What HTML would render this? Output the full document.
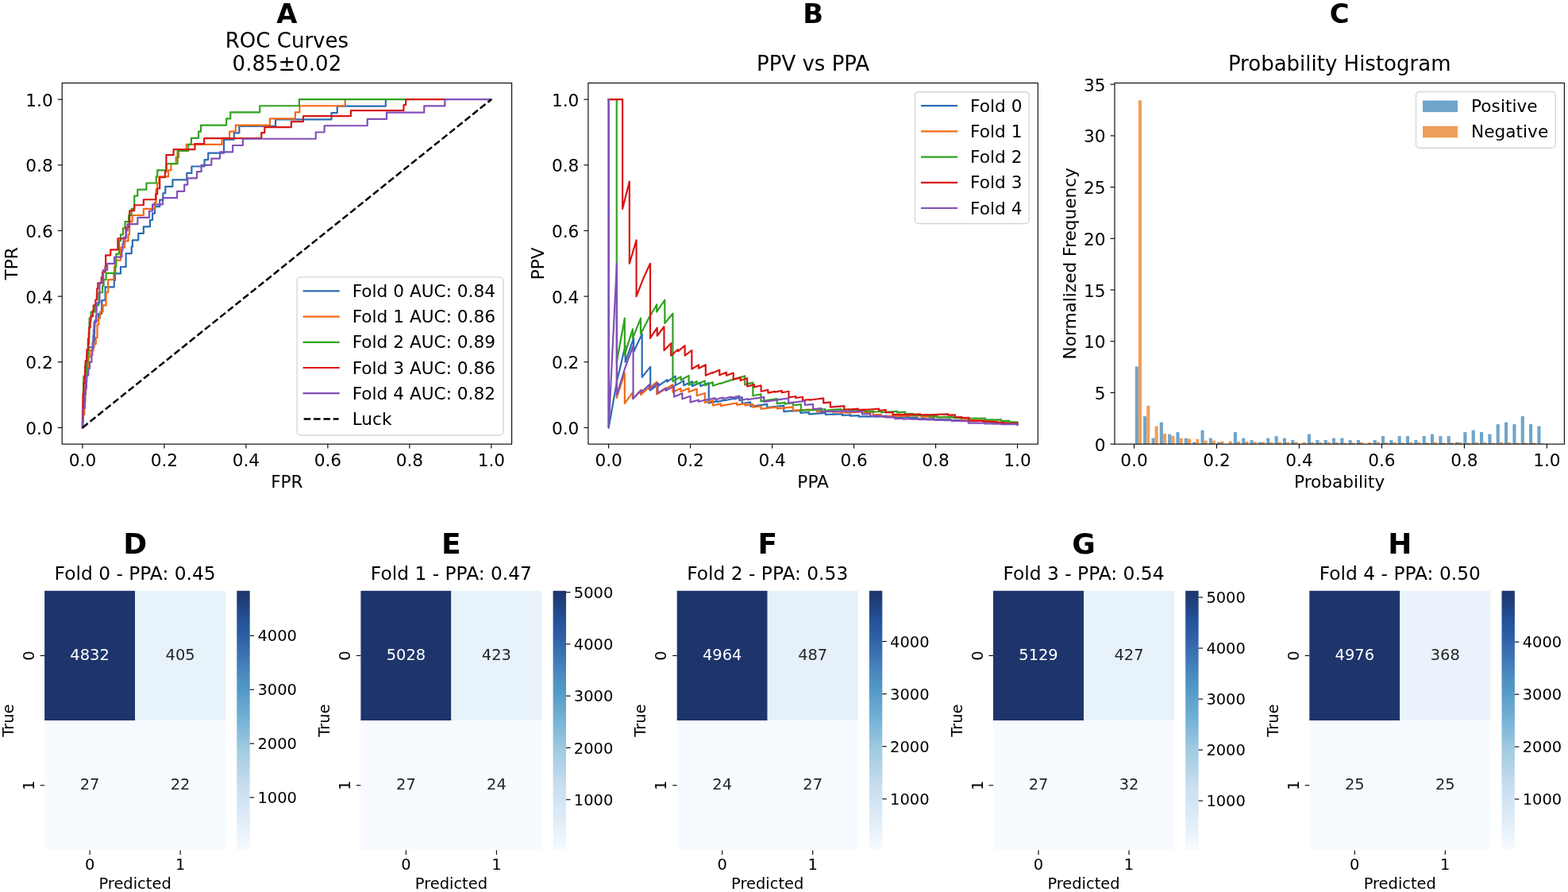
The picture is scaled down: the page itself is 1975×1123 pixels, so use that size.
<!DOCTYPE html>
<html lang="en"><head><meta charset="utf-8"><title>Cross-validation performance figure</title>
<style>html,body{margin:0;padding:0;background:#fff}body{width:1975px;height:1123px;overflow:hidden}svg{display:block}text{font-family:"DejaVu Sans","Liberation Sans",sans-serif}</style></head><body>
<svg xmlns="http://www.w3.org/2000/svg" width="1975" height="1123" viewBox="0 0 1975 1123">
<rect width="1975" height="1123" fill="#fff"/>
<g id="panelA">
<clipPath id="clipA"><rect x="78.2" y="104.5" width="566.4" height="454.6"/></clipPath>
<g clip-path="url(#clipA)">
<path d="M103.95 538.44 L104.54 538.44 L104.54 521.57 L104.73 521.57 L104.73 513.13 L104.93 513.13 L104.93 504.7 L106.11 504.7 L106.11 496.27 L107.78 496.27 L107.78 487.83 L107.98 487.83 L107.98 479.4 L108.17 479.4 L108.17 470.96 L109.25 470.96 L109.25 462.53 L109.94 462.53 L109.94 454.09 L110.73 454.09 L110.73 445.66 L111.42 445.66 L111.42 437.23 L118.5 437.23 L118.5 428.79 L118.89 428.79 L118.89 420.36 L119.09 420.36 L119.09 411.92 L119.38 411.92 L119.38 403.49 L123.81 403.49 L123.81 395.06 L128.13 395.06 L128.13 386.62 L128.23 386.62 L128.23 378.19 L132.56 378.19 L132.56 361.32 L143.77 361.32 L143.77 352.89 L144.95 352.89 L144.95 344.45 L151.93 344.45 L151.93 336.02 L158.61 336.02 L158.61 319.15 L165.69 319.15 L165.69 310.71 L166.87 310.71 L166.87 302.28 L174.25 302.28 L174.25 293.85 L180.83 293.85 L180.83 285.41 L188.99 285.41 L188.99 276.98 L192.04 276.98 L192.04 268.54 L195.09 268.54 L195.09 260.11 L201.19 260.11 L201.19 251.68 L205.31 251.68 L205.31 243.24 L208.26 243.24 L208.26 234.81 L217.41 234.81 L217.41 226.37 L235.3 226.37 L235.3 217.94 L241.4 217.94 L241.4 209.51 L257.62 209.51 L257.62 201.07 L262.24 201.07 L262.24 192.64 L282.01 192.64 L282.01 175.77 L294.79 175.77 L294.79 167.33 L301.37 167.33 L301.37 158.9 L347.09 158.9 L347.09 150.47 L417.49 150.47 L417.49 142.03 L424.77 142.03 L424.77 133.6 L485.83 133.6 L485.83 125.16" fill="none" stroke="#2b6cb1" stroke-width="2.2" stroke-linejoin="round" stroke-linecap="square"/>
<path d="M103.95 538.44 L103.95 530.33 L104.89 530.33 L104.89 522.23 L106.31 522.23 L106.31 514.13 L106.87 514.13 L106.87 506.02 L107.35 506.02 L107.35 497.92 L107.44 497.92 L107.44 489.82 L108.95 489.82 L108.95 473.61 L110.18 473.61 L110.18 465.51 L110.84 465.51 L110.84 457.4 L111.69 457.4 L111.69 449.3 L113.58 449.3 L113.58 441.2 L117.64 441.2 L117.64 433.09 L120.76 433.09 L120.76 424.99 L122.46 424.99 L122.46 408.78 L124.25 408.78 L124.25 400.68 L125.95 400.68 L125.95 392.58 L129.64 392.58 L129.64 384.47 L133.61 384.47 L133.61 368.27 L136.16 368.27 L136.16 352.06 L143.24 352.06 L143.24 343.96 L144.09 343.96 L144.09 335.85 L144.85 335.85 L144.85 327.75 L151.93 327.75 L151.93 311.54 L157.03 311.54 L157.03 303.44 L161.57 303.44 L161.57 295.33 L163.08 295.33 L163.08 279.13 L166.67 279.13 L166.67 271.02 L180.84 271.02 L180.84 262.92 L194.63 262.92 L194.63 254.82 L196.61 254.82 L196.61 238.61 L198.12 238.61 L198.12 230.51 L200.3 230.51 L200.3 222.4 L212.01 222.4 L212.01 214.3 L215.5 214.3 L215.5 206.2 L221.64 206.2 L221.64 198.09 L225.14 198.09 L225.14 189.99 L234.77 189.99 L234.77 181.89 L279.55 181.89 L279.55 173.78 L289.18 173.78 L289.18 165.68 L296.74 165.68 L296.74 157.58 L339.91 157.58 L339.91 149.47 L371.93 149.47 L371.93 141.37 L377.41 141.37 L377.41 133.27 L434.65 133.27 L434.65 125.16" fill="none" stroke="#f26a17" stroke-width="2.2" stroke-linejoin="round" stroke-linecap="square"/>
<path d="M103.95 538.44 L103.95 530.33 L104.32 530.33 L104.32 522.23 L104.61 522.23 L104.61 514.13 L104.7 514.13 L104.7 506.02 L104.89 506.02 L104.89 489.82 L104.98 489.82 L104.98 481.71 L105.36 481.71 L105.36 473.61 L108.57 473.61 L108.57 465.51 L108.95 465.51 L108.95 457.4 L110.27 457.4 L110.27 449.3 L110.75 449.3 L110.75 441.2 L111.6 441.2 L111.6 433.09 L112.35 433.09 L112.35 424.99 L112.45 424.99 L112.45 408.78 L112.54 408.78 L112.54 400.68 L114.62 400.68 L114.62 392.58 L119.72 392.58 L119.72 384.47 L124.44 384.47 L124.44 368.27 L129.07 368.27 L129.07 360.16 L130.58 360.16 L130.58 352.06 L133.61 352.06 L133.61 343.96 L145.32 343.96 L145.32 335.85 L146.36 335.85 L146.36 319.64 L149.95 319.64 L149.95 303.44 L151.93 303.44 L151.93 295.33 L154.95 295.33 L154.95 287.23 L157.51 287.23 L157.51 279.13 L162.13 279.13 L162.13 271.02 L165.63 271.02 L165.63 262.92 L169.22 262.92 L169.22 246.71 L173.28 246.71 L173.28 238.61 L184.43 238.61 L184.43 230.51 L196.71 230.51 L196.71 222.4 L198.22 222.4 L198.22 214.3 L209.46 214.3 L209.46 206.2 L223.63 206.2 L223.63 189.99 L237.32 189.99 L237.32 181.89 L240.91 181.89 L240.91 173.78 L250.08 173.78 L250.08 165.68 L253.1 165.68 L253.1 157.58 L285.12 157.58 L285.12 149.47 L290.22 149.47 L290.22 141.37 L327.25 141.37 L327.25 133.27 L376.84 133.27 L376.84 125.16 L513.3 125.16" fill="none" stroke="#31a320" stroke-width="2.2" stroke-linejoin="round" stroke-linecap="square"/>
<path d="M103.95 538.44 L103.95 524.43 L104.04 524.43 L104.04 517.42 L104.22 517.42 L104.22 510.42 L104.5 510.42 L104.5 496.41 L105.43 496.41 L105.43 489.4 L105.61 489.4 L105.61 482.4 L106.36 482.4 L106.36 475.39 L106.91 475.39 L106.91 468.39 L107 468.39 L107 461.39 L107.56 461.39 L107.56 454.38 L109.04 454.38 L109.04 447.38 L109.41 447.38 L109.41 440.37 L110.8 440.37 L110.8 433.37 L110.9 433.37 L110.9 426.36 L111.73 426.36 L111.73 419.36 L112.29 419.36 L112.29 412.35 L113.68 412.35 L113.68 405.35 L114.42 405.35 L114.42 398.34 L116.83 398.34 L116.83 391.34 L117.75 391.34 L117.75 384.33 L120.35 384.33 L120.35 377.33 L121.92 377.33 L121.92 370.33 L122.2 370.33 L122.2 363.32 L123.31 363.32 L123.31 356.32 L127.67 356.32 L127.67 349.31 L129.06 349.31 L129.06 342.31 L132.58 342.31 L132.58 335.3 L133.14 335.3 L133.14 321.29 L139.26 321.29 L139.26 314.29 L148.43 314.29 L148.43 300.28 L158.53 300.28 L158.53 286.27 L162.61 286.27 L162.61 279.27 L163.26 279.27 L163.26 265.26 L169.19 265.26 L169.19 258.25 L180.87 258.25 L180.87 251.25 L196.16 251.25 L196.16 244.24 L198.2 244.24 L198.2 237.24 L201.16 237.24 L201.16 223.23 L207.93 223.23 L207.93 216.22 L209.41 216.22 L209.41 195.21 L218.59 195.21 L218.59 188.21 L245.46 188.21 L245.46 181.2 L257.14 181.2 L257.14 174.2 L329.24 174.2 L329.24 167.19 L333.32 167.19 L333.32 160.19 L366.87 160.19 L366.87 153.18 L381.97 153.18 L381.97 146.18 L441.94 146.18 L441.94 139.17 L508.48 139.17 L508.48 132.17 L511.16 132.17 L511.16 125.16 L562.21 125.16" fill="none" stroke="#d81714" stroke-width="2.2" stroke-linejoin="round" stroke-linecap="square"/>
<path d="M103.95 538.44 L104.04 538.44 L104.04 530.17 L104.81 530.17 L104.81 513.64 L106.93 513.64 L106.93 505.37 L107.13 505.37 L107.13 497.11 L107.61 497.11 L107.61 488.84 L108.86 488.84 L108.86 480.58 L109.24 480.58 L109.24 472.31 L111.36 472.31 L111.36 464.05 L113 464.05 L113 455.78 L115.41 455.78 L115.41 447.52 L116.28 447.52 L116.28 439.25 L116.57 439.25 L116.57 430.99 L117.34 430.99 L117.34 422.72 L117.92 422.72 L117.92 414.45 L118.4 414.45 L118.4 406.19 L121 406.19 L121 397.92 L121.48 397.92 L121.48 389.66 L121.67 389.66 L121.67 381.39 L125.43 381.39 L125.43 356.6 L130.06 356.6 L130.06 340.07 L135.16 340.07 L135.16 331.8 L144.03 331.8 L144.03 323.53 L153.47 323.53 L153.47 315.27 L154.43 315.27 L154.43 307 L155.49 307 L155.49 298.74 L159.06 298.74 L159.06 290.47 L160.6 290.47 L160.6 282.21 L173.32 282.21 L173.32 273.94 L187.97 273.94 L187.97 265.68 L192.11 265.68 L192.11 257.41 L205.02 257.41 L205.02 249.15 L223.04 249.15 L223.04 240.88 L232.19 240.88 L232.19 232.61 L236.24 232.61 L236.24 224.35 L247.99 224.35 L247.99 216.08 L253.58 216.08 L253.58 207.82 L266.3 207.82 L266.3 199.55 L276.99 199.55 L276.99 191.29 L293.18 191.29 L293.18 183.02 L305.9 183.02 L305.9 174.76 L397.72 174.76 L397.72 166.49 L408.61 166.49 L408.61 158.23 L462.76 158.23 L462.76 149.96 L487.04 149.96 L487.04 141.69 L534.26 141.69 L534.26 133.43 L560.37 133.43 L560.37 125.16 L618.85 125.16" fill="none" stroke="#8150b8" stroke-width="2.2" stroke-linejoin="round" stroke-linecap="square"/>
<path d="M103.95 538.44 L618.85 125.16" fill="none" stroke="#000" stroke-width="2.5" stroke-dasharray="8.62 3.73"/>
</g>
<rect x="78.2" y="104.5" width="566.4" height="454.6" fill="none" stroke="#000" stroke-width="1.11" stroke-linejoin="miter"/>
<line x1="103.95" y1="559.1" x2="103.95" y2="564.6" stroke="#000" stroke-width="1.11"/>
<text x="103.95" y="586.5" font-size="21.65" text-anchor="middle">0.0</text>
<line x1="206.93" y1="559.1" x2="206.93" y2="564.6" stroke="#000" stroke-width="1.11"/>
<text x="206.93" y="586.5" font-size="21.65" text-anchor="middle">0.2</text>
<line x1="309.91" y1="559.1" x2="309.91" y2="564.6" stroke="#000" stroke-width="1.11"/>
<text x="309.91" y="586.5" font-size="21.65" text-anchor="middle">0.4</text>
<line x1="412.89" y1="559.1" x2="412.89" y2="564.6" stroke="#000" stroke-width="1.11"/>
<text x="412.89" y="586.5" font-size="21.65" text-anchor="middle">0.6</text>
<line x1="515.87" y1="559.1" x2="515.87" y2="564.6" stroke="#000" stroke-width="1.11"/>
<text x="515.87" y="586.5" font-size="21.65" text-anchor="middle">0.8</text>
<line x1="618.85" y1="559.1" x2="618.85" y2="564.6" stroke="#000" stroke-width="1.11"/>
<text x="618.85" y="586.5" font-size="21.65" text-anchor="middle">1.0</text>
<line x1="72.7" y1="538.44" x2="78.2" y2="538.44" stroke="#000" stroke-width="1.11"/>
<text x="66.7" y="546.94" font-size="21.65" text-anchor="end">0.0</text>
<line x1="72.7" y1="455.78" x2="78.2" y2="455.78" stroke="#000" stroke-width="1.11"/>
<text x="66.7" y="464.28" font-size="21.65" text-anchor="end">0.2</text>
<line x1="72.7" y1="373.13" x2="78.2" y2="373.13" stroke="#000" stroke-width="1.11"/>
<text x="66.7" y="381.63" font-size="21.65" text-anchor="end">0.4</text>
<line x1="72.7" y1="290.47" x2="78.2" y2="290.47" stroke="#000" stroke-width="1.11"/>
<text x="66.7" y="298.97" font-size="21.65" text-anchor="end">0.6</text>
<line x1="72.7" y1="207.82" x2="78.2" y2="207.82" stroke="#000" stroke-width="1.11"/>
<text x="66.7" y="216.32" font-size="21.65" text-anchor="end">0.8</text>
<line x1="72.7" y1="125.16" x2="78.2" y2="125.16" stroke="#000" stroke-width="1.11"/>
<text x="66.7" y="133.66" font-size="21.65" text-anchor="end">1.0</text>
<text x="361.4" y="614.2" font-size="21.65" text-anchor="middle">FPR</text>
<text x="22" y="331.8" font-size="21.65" text-anchor="middle" transform="rotate(-90 22 331.8)">TPR</text>
<text x="361.4" y="29.4" font-size="33.8" text-anchor="middle" font-weight="bold">A</text>
<text x="361.4" y="60.4" font-size="26" text-anchor="middle">ROC Curves</text>
<text x="361.4" y="88.9" font-size="26" text-anchor="middle">0.85±0.02</text>
<rect x="374.1" y="348.9" width="259.7" height="199.1" rx="4.33" ry="4.33" fill="#fff" fill-opacity="0.8" stroke="#ccc" stroke-opacity="0.8" stroke-width="1.39"/>
<line x1="382.65" y1="366.4" x2="426.6" y2="366.4" stroke="#2b6cb1" stroke-width="2.2" stroke-linecap="square"/>
<text x="443.7" y="374" font-size="21.65" text-anchor="start">Fold 0 AUC: 0.84</text>
<line x1="382.65" y1="398.6" x2="426.6" y2="398.6" stroke="#f26a17" stroke-width="2.2" stroke-linecap="square"/>
<text x="443.7" y="406.2" font-size="21.65" text-anchor="start">Fold 1 AUC: 0.86</text>
<line x1="382.65" y1="430.8" x2="426.6" y2="430.8" stroke="#31a320" stroke-width="2.2" stroke-linecap="square"/>
<text x="443.7" y="438.4" font-size="21.65" text-anchor="start">Fold 2 AUC: 0.89</text>
<line x1="382.65" y1="463" x2="426.6" y2="463" stroke="#d81714" stroke-width="2.2" stroke-linecap="square"/>
<text x="443.7" y="470.6" font-size="21.65" text-anchor="start">Fold 3 AUC: 0.86</text>
<line x1="382.65" y1="495.2" x2="426.6" y2="495.2" stroke="#8150b8" stroke-width="2.2" stroke-linecap="square"/>
<text x="443.7" y="502.8" font-size="21.65" text-anchor="start">Fold 4 AUC: 0.82</text>
<line x1="382.65" y1="527.4" x2="426.6" y2="527.4" stroke="#000" stroke-width="2.5" stroke-dasharray="8.62 3.73"/>
<text x="443.7" y="535" font-size="21.65" text-anchor="start">Luck</text>
</g>
<g id="panelB">
<path d="M1281.55 534.61 L1281.55 533.29 L1271.05 533.39 L1271.05 532.45 L1260.54 532.57 L1260.54 532.43 L1250.03 532.56 L1250.03 530.89 L1239.52 531.05 L1239.52 529.38 L1229.01 529.57 L1229.01 529.28 L1218.5 529.48 L1218.5 528.85 L1208 529.07 L1197.49 529.29 L1197.49 528.17 L1186.98 528.42 L1186.98 528.12 L1176.47 528.38 L1176.47 527.22 L1165.96 527.5 L1165.96 527.01 L1155.45 527.3 L1155.45 525.6 L1144.95 525.93 L1144.95 524.87 L1134.44 525.24 L1134.44 524.87 L1123.93 525.24 L1123.93 524.7 L1113.42 525.09 L1113.42 524.23 L1102.91 524.65 L1102.91 524.19 L1092.4 524.62 L1092.4 524.14 L1081.9 524.58 L1081.9 523.17 L1071.39 523.66 L1071.39 522.33 L1060.88 522.86 L1060.88 521.11 L1050.37 521.71 L1050.37 521.4 L1039.86 522.01 L1039.86 519.97 L1029.35 520.65 L1018.85 521.34 L1018.85 519.06 L1008.34 519.84 L1008.34 516.83 L997.83 517.73 L997.83 517.14 L987.32 518.06 L987.32 510.62 L976.81 511.86 L966.3 513.11 L966.3 508.92 L955.8 510.37 L955.8 510.26 L945.29 511.72 L945.29 506.36 L934.78 508.1 L934.78 500.21 L924.27 502.4 L924.27 501.76 L913.76 504 L913.76 503.58 L903.25 505.88 L903.25 505.07 L892.75 507.44 L892.75 482.08 L882.24 486.18 L882.24 481.61 L871.73 486.12 L871.73 480.23 L861.22 485.3 L861.22 479.4 L850.71 485.11 L850.71 473.61 L840.2 480.58 L840.2 478.17 L829.7 485.68 L829.7 483.33 L819.19 491.47 L819.19 461.9 L808.68 474.86 L808.68 420.36 L798.17 443.07 L798.17 425.73 L787.66 455.78 L787.66 435.12 L777.15 479.4 L766.65 538.44 L766.65 125.16" fill="none" stroke="#2b6cb1" stroke-width="2.2" stroke-linejoin="round" stroke-linecap="square"/>
<path d="M1281.55 534.61 L1281.55 532.5 L1271.46 532.62 L1271.46 531.42 L1261.36 531.56 L1261.36 531.42 L1251.27 531.56 L1251.27 530.64 L1241.17 530.8 L1241.17 529.13 L1231.07 529.33 L1231.07 528.96 L1220.98 529.17 L1220.98 528.67 L1210.88 528.88 L1210.88 525.71 L1200.78 525.99 L1200.78 525.03 L1190.69 525.34 L1190.69 524.96 L1180.59 525.27 L1180.59 524.57 L1170.5 524.9 L1170.5 524.47 L1160.4 524.81 L1160.4 523.22 L1150.3 523.59 L1150.3 523.26 L1140.21 523.65 L1140.21 523.42 L1130.11 523.81 L1120.01 524.2 L1120.01 523.9 L1109.92 524.3 L1109.92 521.87 L1099.82 522.33 L1099.82 518.87 L1089.73 519.44 L1089.73 518.34 L1079.63 518.94 L1069.53 519.54 L1069.53 519.06 L1059.44 519.68 L1059.44 518.16 L1049.34 518.82 L1049.34 516.85 L1039.24 517.58 L1029.15 518.31 L1029.15 515.03 L1019.05 515.88 L1019.05 515.48 L1008.96 516.35 L1008.96 515.89 L998.86 516.78 L998.86 512.32 L988.76 513.39 L978.67 514.46 L978.67 512.53 L968.57 513.69 L958.47 514.86 L958.47 511.45 L948.38 512.78 L948.38 508.8 L938.28 510.33 L938.28 508.15 L928.19 509.81 L928.19 507.25 L918.09 509.06 L907.99 510.88 L907.99 508.3 L897.9 510.31 L897.9 504.43 L887.8 506.85 L887.8 494.93 L877.7 498.21 L877.7 489.55 L867.61 493.52 L867.61 488.64 L857.51 493.08 L857.51 488.84 L847.42 493.76 L847.42 484.24 L837.32 490.22 L827.22 496.41 L827.22 480.77 L817.13 489.24 L817.13 488.04 L807.03 497.11 L807.03 491.21 L796.93 501.97 L796.93 494.16 L786.84 507.82 L786.84 469.56 L776.74 500.87 L776.74 455.78" fill="none" stroke="#f26a17" stroke-width="2.2" stroke-linejoin="round" stroke-linecap="square"/>
<path d="M1281.55 534.61 L1281.55 531.27 L1271.46 531.41 L1271.46 529.88 L1261.36 530.04 L1261.36 528.42 L1251.27 528.62 L1251.27 528.35 L1241.17 528.55 L1241.17 526.49 L1231.07 526.74 L1231.07 526.5 L1220.98 526.75 L1220.98 526 L1210.88 526.27 L1210.88 525.95 L1200.78 526.22 L1200.78 524.87 L1190.69 525.18 L1180.59 525.48 L1180.59 523.8 L1170.5 524.15 L1170.5 522.51 L1160.4 522.89 L1160.4 522.65 L1150.3 523.04 L1150.3 520.79 L1140.21 521.24 L1140.21 518.6 L1130.11 519.11 L1130.11 517.97 L1120.01 518.51 L1109.92 519.06 L1109.92 517.98 L1099.82 518.56 L1099.82 517.42 L1089.73 518.03 L1089.73 516.36 L1079.63 517.01 L1079.63 516 L1069.53 516.69 L1069.53 515.39 L1059.44 516.12 L1059.44 515.21 L1049.34 515.97 L1039.24 516.73 L1039.24 514.99 L1029.15 515.82 L1019.05 516.64 L1019.05 516.12 L1008.96 516.97 L1008.96 509.09 L998.86 510.23 L998.86 507.27 L988.76 508.53 L988.76 506.87 L978.67 508.2 L978.67 501.97 L968.57 503.56 L958.47 505.16 L958.47 496.22 L948.38 498.23 L948.38 481.65 L938.28 484.39 L938.28 473.38 L928.19 476.64 L928.19 476.06 L918.09 479.4 L907.99 482.8 L907.99 482.26 L897.9 485.76 L897.9 481.28 L887.8 485.11 L887.8 479.4 L877.7 483.67 L877.7 480.15 L867.61 484.76 L867.61 472.84 L857.51 478.45 L857.51 474.31 L847.42 480.43 L847.42 394.69 L837.32 406.94 L837.32 377.72 L827.22 392.58 L827.22 383.46 L817.13 400.68 L807.03 420.36 L807.03 400.68 L796.93 425.73 L796.93 414.45 L786.84 446.6 L786.84 400.68 L776.74 455.78 L776.74 125.16 L766.65 125.16" fill="none" stroke="#31a320" stroke-width="2.2" stroke-linejoin="round" stroke-linecap="square"/>
<path d="M1281.55 534.09 L1281.55 532.96 L1272.83 533.05 L1272.83 533.02 L1264.1 533.11 L1264.1 532.08 L1255.37 532.19 L1255.37 530.86 L1246.65 531 L1246.65 530.58 L1237.92 530.72 L1237.92 529.61 L1229.19 529.77 L1229.19 529.62 L1220.46 529.78 L1220.46 525.83 L1211.74 526.07 L1211.74 525.08 L1203.01 525.33 L1203.01 522.38 L1194.28 522.69 L1194.28 521.38 L1185.55 521.71 L1176.83 522.04 L1168.1 522.38 L1168.1 522.16 L1159.37 522.5 L1159.37 521.44 L1150.65 521.8 L1141.92 522.16 L1141.92 521.67 L1133.19 522.05 L1133.19 521.7 L1124.46 522.08 L1124.46 518.98 L1115.74 519.44 L1115.74 516.22 L1107.01 516.74 L1107.01 514.7 L1098.28 515.27 L1089.55 515.85 L1089.55 515.61 L1080.83 516.2 L1080.83 514.63 L1072.1 515.26 L1063.37 515.88 L1063.37 511.1 L1054.65 511.85 L1045.92 512.61 L1045.92 506.42 L1037.19 507.34 L1037.19 501.41 L1028.46 502.5 L1019.74 503.6 L1019.74 502.98 L1011.01 504.1 L1011.01 499.74 L1002.28 500.99 L1002.28 499.01 L993.55 500.33 L993.55 492.71 L984.83 494.28 L984.83 491.9 L976.1 493.56 L976.1 492.94 L967.37 494.63 L967.37 490.91 L958.65 492.75 L958.65 485.27 L949.92 487.39 L949.92 484.19 L941.19 486.45 L941.19 476.29 L932.46 478.95 L932.46 475.11 L923.74 477.96 L923.74 469.56 L915.01 472.78 L915.01 468.88 L906.28 472.31 L906.28 465.77 L897.55 469.56 L897.55 468.78 L888.83 472.69 L888.83 459.18 L880.1 463.82 L880.1 459.43 L871.37 464.42 L871.37 441.2 L862.65 447.52 L862.65 435.12 L853.92 442.33 L853.92 440.04 L845.19 447.72 L845.19 432.17 L836.46 441.2 L836.46 411.28 L827.74 422.72 L827.74 412.66 L819.01 425.73 L819.01 331.8 L810.28 350.59 L801.55 373.13 L801.55 302.28 L792.83 331.8 L792.83 228.48 L784.1 262.92 L784.1 125.16 L775.37 125.16 L766.65 125.16" fill="none" stroke="#d81714" stroke-width="2.2" stroke-linejoin="round" stroke-linecap="square"/>
<path d="M1281.55 534.61 L1281.55 534.12 L1271.26 534.21 L1271.26 533.95 L1260.96 534.04 L1260.96 533.51 L1250.66 533.61 L1250.66 533.29 L1240.36 533.39 L1240.36 532.51 L1230.06 532.64 L1230.06 532.43 L1219.77 532.56 L1219.77 529.94 L1209.47 530.13 L1209.47 529.58 L1199.17 529.78 L1199.17 528.99 L1188.87 529.21 L1188.87 528.62 L1178.57 528.85 L1178.57 528.06 L1168.27 528.31 L1168.27 527.93 L1157.98 528.19 L1157.98 527.31 L1147.68 527.59 L1147.68 527.26 L1137.38 527.55 L1137.38 526.74 L1127.08 527.06 L1127.08 525.09 L1116.78 525.46 L1116.78 523.63 L1106.49 524.05 L1106.49 523.37 L1096.19 523.81 L1096.19 520.85 L1085.89 521.38 L1085.89 517.74 L1075.59 518.37 L1075.59 517.84 L1065.29 518.49 L1065.29 517.19 L1054.99 517.88 L1054.99 517.47 L1044.7 518.19 L1044.7 517.81 L1034.4 518.54 L1034.4 514.13 L1024.1 515.01 L1024.1 508.83 L1013.8 509.93 L1013.8 504.81 L1003.5 506.11 L993.21 507.41 L993.21 501.33 L982.91 502.87 L972.61 504.42 L962.31 505.99 L962.31 499.76 L952.01 501.61 L952.01 501.24 L941.71 503.13 L941.71 502.22 L931.42 504.18 L931.42 498.6 L921.12 500.87 L921.12 499.69 L910.82 502.05 L910.82 500.62 L900.52 503.09 L900.52 501.13 L890.22 503.76 L890.22 503.01 L879.93 505.73 L879.93 503.47 L869.63 506.4 L869.63 498.7 L859.33 502.33 L859.33 495.19 L849.03 499.54 L849.03 485.96 L838.73 491.78 L838.73 488.56 L828.43 494.93 L828.43 482.08 L818.14 490.38 L818.14 484.06 L807.84 493.76 L807.84 491.21 L797.54 501.97 L797.54 435.12 L787.24 463.3 L776.94 497.11 L776.94 331.8 L766.65 538.44 L766.65 125.16" fill="none" stroke="#8150b8" stroke-width="2.2" stroke-linejoin="round" stroke-linecap="square"/>
<rect x="740.9" y="104.5" width="566.4" height="454.6" fill="none" stroke="#000" stroke-width="1.11" stroke-linejoin="miter"/>
<line x1="766.65" y1="559.1" x2="766.65" y2="564.6" stroke="#000" stroke-width="1.11"/>
<text x="766.65" y="586.5" font-size="21.65" text-anchor="middle">0.0</text>
<line x1="869.63" y1="559.1" x2="869.63" y2="564.6" stroke="#000" stroke-width="1.11"/>
<text x="869.63" y="586.5" font-size="21.65" text-anchor="middle">0.2</text>
<line x1="972.61" y1="559.1" x2="972.61" y2="564.6" stroke="#000" stroke-width="1.11"/>
<text x="972.61" y="586.5" font-size="21.65" text-anchor="middle">0.4</text>
<line x1="1075.59" y1="559.1" x2="1075.59" y2="564.6" stroke="#000" stroke-width="1.11"/>
<text x="1075.59" y="586.5" font-size="21.65" text-anchor="middle">0.6</text>
<line x1="1178.57" y1="559.1" x2="1178.57" y2="564.6" stroke="#000" stroke-width="1.11"/>
<text x="1178.57" y="586.5" font-size="21.65" text-anchor="middle">0.8</text>
<line x1="1281.55" y1="559.1" x2="1281.55" y2="564.6" stroke="#000" stroke-width="1.11"/>
<text x="1281.55" y="586.5" font-size="21.65" text-anchor="middle">1.0</text>
<line x1="735.4" y1="538.44" x2="740.9" y2="538.44" stroke="#000" stroke-width="1.11"/>
<text x="729.4" y="546.94" font-size="21.65" text-anchor="end">0.0</text>
<line x1="735.4" y1="455.78" x2="740.9" y2="455.78" stroke="#000" stroke-width="1.11"/>
<text x="729.4" y="464.28" font-size="21.65" text-anchor="end">0.2</text>
<line x1="735.4" y1="373.13" x2="740.9" y2="373.13" stroke="#000" stroke-width="1.11"/>
<text x="729.4" y="381.63" font-size="21.65" text-anchor="end">0.4</text>
<line x1="735.4" y1="290.47" x2="740.9" y2="290.47" stroke="#000" stroke-width="1.11"/>
<text x="729.4" y="298.97" font-size="21.65" text-anchor="end">0.6</text>
<line x1="735.4" y1="207.82" x2="740.9" y2="207.82" stroke="#000" stroke-width="1.11"/>
<text x="729.4" y="216.32" font-size="21.65" text-anchor="end">0.8</text>
<line x1="735.4" y1="125.16" x2="740.9" y2="125.16" stroke="#000" stroke-width="1.11"/>
<text x="729.4" y="133.66" font-size="21.65" text-anchor="end">1.0</text>
<text x="1024.1" y="614.2" font-size="21.65" text-anchor="middle">PPA</text>
<text x="685" y="331.8" font-size="21.65" text-anchor="middle" transform="rotate(-90 685 331.8)">PPV</text>
<text x="1024.1" y="29.4" font-size="33.8" text-anchor="middle" font-weight="bold">B</text>
<text x="1024.1" y="88.9" font-size="26" text-anchor="middle">PPV vs PPA</text>
<rect x="1152.5" y="115.7" width="143.6" height="165.8" rx="4.33" ry="4.33" fill="#fff" fill-opacity="0.8" stroke="#ccc" stroke-opacity="0.8" stroke-width="1.39"/>
<line x1="1161.05" y1="133.2" x2="1205" y2="133.2" stroke="#2b6cb1" stroke-width="2.2" stroke-linecap="square"/>
<text x="1222.1" y="140.8" font-size="21.65" text-anchor="start">Fold 0</text>
<line x1="1161.05" y1="165.4" x2="1205" y2="165.4" stroke="#f26a17" stroke-width="2.2" stroke-linecap="square"/>
<text x="1222.1" y="173" font-size="21.65" text-anchor="start">Fold 1</text>
<line x1="1161.05" y1="197.6" x2="1205" y2="197.6" stroke="#31a320" stroke-width="2.2" stroke-linecap="square"/>
<text x="1222.1" y="205.2" font-size="21.65" text-anchor="start">Fold 2</text>
<line x1="1161.05" y1="229.8" x2="1205" y2="229.8" stroke="#d81714" stroke-width="2.2" stroke-linecap="square"/>
<text x="1222.1" y="237.4" font-size="21.65" text-anchor="start">Fold 3</text>
<line x1="1161.05" y1="262" x2="1205" y2="262" stroke="#8150b8" stroke-width="2.2" stroke-linecap="square"/>
<text x="1222.1" y="269.6" font-size="21.65" text-anchor="start">Fold 4</text>
</g>
<g id="panelC">
<rect x="1429.75" y="461.5" width="4.14" height="97.6" fill="#6fa5cb"/>
<rect x="1433.88" y="126.26" width="4.14" height="432.84" fill="#ee9f59"/>
<rect x="1440.08" y="524.06" width="4.14" height="35.04" fill="#6fa5cb"/>
<rect x="1444.22" y="510.78" width="4.14" height="48.32" fill="#ee9f59"/>
<rect x="1450.42" y="551.59" width="4.14" height="7.51" fill="#6fa5cb"/>
<rect x="1454.56" y="536.48" width="4.14" height="22.62" fill="#ee9f59"/>
<rect x="1460.76" y="531.57" width="4.14" height="27.53" fill="#6fa5cb"/>
<rect x="1464.9" y="545.82" width="4.14" height="13.28" fill="#ee9f59"/>
<rect x="1471.1" y="546.59" width="4.14" height="12.51" fill="#6fa5cb"/>
<rect x="1475.24" y="548.67" width="4.14" height="10.43" fill="#ee9f59"/>
<rect x="1481.44" y="544.08" width="4.14" height="15.02" fill="#6fa5cb"/>
<rect x="1485.58" y="551.71" width="4.14" height="7.39" fill="#ee9f59"/>
<rect x="1491.78" y="551.59" width="4.14" height="7.51" fill="#6fa5cb"/>
<rect x="1495.92" y="552.42" width="4.14" height="6.68" fill="#ee9f59"/>
<rect x="1502.12" y="556.6" width="4.14" height="2.5" fill="#6fa5cb"/>
<rect x="1506.26" y="552.73" width="4.14" height="6.37" fill="#ee9f59"/>
<rect x="1512.46" y="541.58" width="4.14" height="17.52" fill="#6fa5cb"/>
<rect x="1516.6" y="554.66" width="4.14" height="4.44" fill="#ee9f59"/>
<rect x="1522.8" y="551.59" width="4.14" height="7.51" fill="#6fa5cb"/>
<rect x="1526.94" y="554.66" width="4.14" height="4.44" fill="#ee9f59"/>
<rect x="1533.14" y="556.6" width="4.14" height="2.5" fill="#6fa5cb"/>
<rect x="1537.28" y="555.48" width="4.14" height="3.62" fill="#ee9f59"/>
<rect x="1547.62" y="555.48" width="4.14" height="3.62" fill="#ee9f59"/>
<rect x="1553.82" y="544.08" width="4.14" height="15.02" fill="#6fa5cb"/>
<rect x="1557.96" y="555.77" width="4.14" height="3.33" fill="#ee9f59"/>
<rect x="1564.16" y="551.59" width="4.14" height="7.51" fill="#6fa5cb"/>
<rect x="1568.3" y="555.77" width="4.14" height="3.33" fill="#ee9f59"/>
<rect x="1574.5" y="554.09" width="4.14" height="5.01" fill="#6fa5cb"/>
<rect x="1578.63" y="556.29" width="4.14" height="2.81" fill="#ee9f59"/>
<rect x="1584.84" y="556.6" width="4.14" height="2.5" fill="#6fa5cb"/>
<rect x="1588.97" y="556.51" width="4.14" height="2.59" fill="#ee9f59"/>
<rect x="1595.18" y="551.59" width="4.14" height="7.51" fill="#6fa5cb"/>
<rect x="1599.31" y="556.69" width="4.14" height="2.41" fill="#ee9f59"/>
<rect x="1605.52" y="549.09" width="4.14" height="10.01" fill="#6fa5cb"/>
<rect x="1609.65" y="556.51" width="4.14" height="2.59" fill="#ee9f59"/>
<rect x="1615.86" y="551.59" width="4.14" height="7.51" fill="#6fa5cb"/>
<rect x="1619.99" y="556.69" width="4.14" height="2.41" fill="#ee9f59"/>
<rect x="1626.2" y="554.09" width="4.14" height="5.01" fill="#6fa5cb"/>
<rect x="1630.33" y="556.51" width="4.14" height="2.59" fill="#ee9f59"/>
<rect x="1640.67" y="556.69" width="4.14" height="2.41" fill="#ee9f59"/>
<rect x="1646.88" y="546.59" width="4.14" height="12.51" fill="#6fa5cb"/>
<rect x="1651.01" y="556.69" width="4.14" height="2.41" fill="#ee9f59"/>
<rect x="1657.22" y="554.09" width="4.14" height="5.01" fill="#6fa5cb"/>
<rect x="1661.35" y="556.69" width="4.14" height="2.41" fill="#ee9f59"/>
<rect x="1667.55" y="554.09" width="4.14" height="5.01" fill="#6fa5cb"/>
<rect x="1671.69" y="556.51" width="4.14" height="2.59" fill="#ee9f59"/>
<rect x="1677.89" y="551.59" width="4.14" height="7.51" fill="#6fa5cb"/>
<rect x="1682.03" y="557.03" width="4.14" height="2.07" fill="#ee9f59"/>
<rect x="1688.23" y="551.59" width="4.14" height="7.51" fill="#6fa5cb"/>
<rect x="1692.37" y="557.55" width="4.14" height="1.55" fill="#ee9f59"/>
<rect x="1698.57" y="554.09" width="4.14" height="5.01" fill="#6fa5cb"/>
<rect x="1702.71" y="557.29" width="4.14" height="1.81" fill="#ee9f59"/>
<rect x="1708.91" y="554.09" width="4.14" height="5.01" fill="#6fa5cb"/>
<rect x="1713.05" y="556.69" width="4.14" height="2.41" fill="#ee9f59"/>
<rect x="1723.39" y="557.03" width="4.14" height="2.07" fill="#ee9f59"/>
<rect x="1729.59" y="554.09" width="4.14" height="5.01" fill="#6fa5cb"/>
<rect x="1733.73" y="556.51" width="4.14" height="2.59" fill="#ee9f59"/>
<rect x="1739.93" y="549.09" width="4.14" height="10.01" fill="#6fa5cb"/>
<rect x="1744.07" y="557.22" width="4.14" height="1.88" fill="#ee9f59"/>
<rect x="1750.27" y="554.09" width="4.14" height="5.01" fill="#6fa5cb"/>
<rect x="1754.41" y="556.69" width="4.14" height="2.41" fill="#ee9f59"/>
<rect x="1760.61" y="549.09" width="4.14" height="10.01" fill="#6fa5cb"/>
<rect x="1764.75" y="557.29" width="4.14" height="1.81" fill="#ee9f59"/>
<rect x="1770.95" y="549.09" width="4.14" height="10.01" fill="#6fa5cb"/>
<rect x="1775.09" y="556.69" width="4.14" height="2.41" fill="#ee9f59"/>
<rect x="1781.29" y="554.09" width="4.14" height="5.01" fill="#6fa5cb"/>
<rect x="1785.43" y="556.77" width="4.14" height="2.33" fill="#ee9f59"/>
<rect x="1791.63" y="549.09" width="4.14" height="10.01" fill="#6fa5cb"/>
<rect x="1795.77" y="557.29" width="4.14" height="1.81" fill="#ee9f59"/>
<rect x="1801.97" y="546.59" width="4.14" height="12.51" fill="#6fa5cb"/>
<rect x="1806.1" y="556.77" width="4.14" height="2.33" fill="#ee9f59"/>
<rect x="1812.31" y="549.09" width="4.14" height="10.01" fill="#6fa5cb"/>
<rect x="1816.44" y="557.29" width="4.14" height="1.81" fill="#ee9f59"/>
<rect x="1822.65" y="549.09" width="4.14" height="10.01" fill="#6fa5cb"/>
<rect x="1826.78" y="557.29" width="4.14" height="1.81" fill="#ee9f59"/>
<rect x="1832.99" y="556.6" width="4.14" height="2.5" fill="#6fa5cb"/>
<rect x="1837.12" y="556.77" width="4.14" height="2.33" fill="#ee9f59"/>
<rect x="1843.33" y="544.08" width="4.14" height="15.02" fill="#6fa5cb"/>
<rect x="1847.46" y="557.48" width="4.14" height="1.62" fill="#ee9f59"/>
<rect x="1853.67" y="541.58" width="4.14" height="17.52" fill="#6fa5cb"/>
<rect x="1857.8" y="556.77" width="4.14" height="2.33" fill="#ee9f59"/>
<rect x="1864.01" y="544.08" width="4.14" height="15.02" fill="#6fa5cb"/>
<rect x="1868.14" y="556.77" width="4.14" height="2.33" fill="#ee9f59"/>
<rect x="1874.35" y="546.59" width="4.14" height="12.51" fill="#6fa5cb"/>
<rect x="1878.48" y="557.48" width="4.14" height="1.62" fill="#ee9f59"/>
<rect x="1884.69" y="534.07" width="4.14" height="25.03" fill="#6fa5cb"/>
<rect x="1888.82" y="556.77" width="4.14" height="2.33" fill="#ee9f59"/>
<rect x="1895.02" y="531.57" width="4.14" height="27.53" fill="#6fa5cb"/>
<rect x="1899.16" y="556.77" width="4.14" height="2.33" fill="#ee9f59"/>
<rect x="1905.36" y="534.07" width="4.14" height="25.03" fill="#6fa5cb"/>
<rect x="1909.5" y="557.48" width="4.14" height="1.62" fill="#ee9f59"/>
<rect x="1915.7" y="524.06" width="4.14" height="35.04" fill="#6fa5cb"/>
<rect x="1919.84" y="557.48" width="4.14" height="1.62" fill="#ee9f59"/>
<rect x="1926.04" y="534.07" width="4.14" height="25.03" fill="#6fa5cb"/>
<rect x="1930.18" y="557.29" width="4.14" height="1.81" fill="#ee9f59"/>
<rect x="1936.38" y="536.58" width="4.14" height="22.52" fill="#6fa5cb"/>
<rect x="1940.52" y="558.45" width="4.14" height="0.65" fill="#ee9f59"/>
<rect x="1404" y="104.5" width="566.4" height="454.6" fill="none" stroke="#000" stroke-width="1.11" stroke-linejoin="miter"/>
<line x1="1428.5" y1="559.1" x2="1428.5" y2="564.6" stroke="#000" stroke-width="1.11"/>
<text x="1428.5" y="586.5" font-size="21.65" text-anchor="middle">0.0</text>
<line x1="1532.48" y1="559.1" x2="1532.48" y2="564.6" stroke="#000" stroke-width="1.11"/>
<text x="1532.48" y="586.5" font-size="21.65" text-anchor="middle">0.2</text>
<line x1="1636.46" y1="559.1" x2="1636.46" y2="564.6" stroke="#000" stroke-width="1.11"/>
<text x="1636.46" y="586.5" font-size="21.65" text-anchor="middle">0.4</text>
<line x1="1740.44" y1="559.1" x2="1740.44" y2="564.6" stroke="#000" stroke-width="1.11"/>
<text x="1740.44" y="586.5" font-size="21.65" text-anchor="middle">0.6</text>
<line x1="1844.42" y1="559.1" x2="1844.42" y2="564.6" stroke="#000" stroke-width="1.11"/>
<text x="1844.42" y="586.5" font-size="21.65" text-anchor="middle">0.8</text>
<line x1="1948.4" y1="559.1" x2="1948.4" y2="564.6" stroke="#000" stroke-width="1.11"/>
<text x="1948.4" y="586.5" font-size="21.65" text-anchor="middle">1.0</text>
<line x1="1398.5" y1="559.1" x2="1404" y2="559.1" stroke="#000" stroke-width="1.11"/>
<text x="1392.5" y="567.6" font-size="21.65" text-anchor="end">0</text>
<line x1="1398.5" y1="494.4" x2="1404" y2="494.4" stroke="#000" stroke-width="1.11"/>
<text x="1392.5" y="502.9" font-size="21.65" text-anchor="end">5</text>
<line x1="1398.5" y1="429.7" x2="1404" y2="429.7" stroke="#000" stroke-width="1.11"/>
<text x="1392.5" y="438.2" font-size="21.65" text-anchor="end">10</text>
<line x1="1398.5" y1="365" x2="1404" y2="365" stroke="#000" stroke-width="1.11"/>
<text x="1392.5" y="373.5" font-size="21.65" text-anchor="end">15</text>
<line x1="1398.5" y1="300.3" x2="1404" y2="300.3" stroke="#000" stroke-width="1.11"/>
<text x="1392.5" y="308.8" font-size="21.65" text-anchor="end">20</text>
<line x1="1398.5" y1="235.6" x2="1404" y2="235.6" stroke="#000" stroke-width="1.11"/>
<text x="1392.5" y="244.1" font-size="21.65" text-anchor="end">25</text>
<line x1="1398.5" y1="170.9" x2="1404" y2="170.9" stroke="#000" stroke-width="1.11"/>
<text x="1392.5" y="179.4" font-size="21.65" text-anchor="end">30</text>
<line x1="1398.5" y1="106.2" x2="1404" y2="106.2" stroke="#000" stroke-width="1.11"/>
<text x="1392.5" y="114.7" font-size="21.65" text-anchor="end">35</text>
<text x="1687.2" y="614.2" font-size="21.65" text-anchor="middle">Probability</text>
<text x="1354.7" y="331.8" font-size="21.65" text-anchor="middle" transform="rotate(-90 1354.7 331.8)">Normalized Frequency</text>
<text x="1687.2" y="29.4" font-size="33.8" text-anchor="middle" font-weight="bold">C</text>
<text x="1687.2" y="88.9" font-size="26" text-anchor="middle">Probability Histogram</text>
<rect x="1783.5" y="115.5" width="175.7" height="70.8" rx="4.33" ry="4.33" fill="#fff" fill-opacity="0.8" stroke="#ccc" stroke-opacity="0.8" stroke-width="1.39"/>
<rect x="1792.05" y="126.5" width="43.95" height="14.6" fill="#6fa5cb"/>
<text x="1853.1" y="140.6" font-size="21.65" text-anchor="start">Positive</text>
<rect x="1792.05" y="158.7" width="43.95" height="14.6" fill="#ee9f59"/>
<text x="1853.1" y="172.8" font-size="21.65" text-anchor="start">Negative</text>
</g>
<defs>
<linearGradient id="cb0" x1="0" y1="1" x2="0" y2="0">
<stop offset="0" stop-color="#f7fbff"/>
<stop offset="0.03" stop-color="#f1f7fd"/>
<stop offset="0.06" stop-color="#eaf3fb"/>
<stop offset="0.09" stop-color="#e4f0f9"/>
<stop offset="0.12" stop-color="#deecf7"/>
<stop offset="0.16" stop-color="#d8e8f5"/>
<stop offset="0.19" stop-color="#d2e4f3"/>
<stop offset="0.22" stop-color="#cde1f1"/>
<stop offset="0.25" stop-color="#c8ddef"/>
<stop offset="0.28" stop-color="#bfd9eb"/>
<stop offset="0.31" stop-color="#b6d5e8"/>
<stop offset="0.34" stop-color="#add1e4"/>
<stop offset="0.38" stop-color="#a4cce1"/>
<stop offset="0.41" stop-color="#98c6de"/>
<stop offset="0.44" stop-color="#8dbfdb"/>
<stop offset="0.47" stop-color="#82b9d9"/>
<stop offset="0.5" stop-color="#76b3d6"/>
<stop offset="0.53" stop-color="#6dacd2"/>
<stop offset="0.56" stop-color="#64a6ce"/>
<stop offset="0.59" stop-color="#5b9fca"/>
<stop offset="0.62" stop-color="#5398c6"/>
<stop offset="0.66" stop-color="#4e8fc1"/>
<stop offset="0.69" stop-color="#4986bd"/>
<stop offset="0.72" stop-color="#437db9"/>
<stop offset="0.75" stop-color="#3c74b4"/>
<stop offset="0.78" stop-color="#376cae"/>
<stop offset="0.81" stop-color="#3163a8"/>
<stop offset="0.84" stop-color="#2b5ca2"/>
<stop offset="0.88" stop-color="#24549b"/>
<stop offset="0.91" stop-color="#224c8f"/>
<stop offset="0.94" stop-color="#214483"/>
<stop offset="0.97" stop-color="#1f3c77"/>
<stop offset="1" stop-color="#1e356c"/>
</linearGradient>
<linearGradient id="cb1" x1="0" y1="1" x2="0" y2="0">
<stop offset="0" stop-color="#f7fbff"/>
<stop offset="0.03" stop-color="#f1f7fd"/>
<stop offset="0.06" stop-color="#eaf3fb"/>
<stop offset="0.09" stop-color="#e4f0f9"/>
<stop offset="0.12" stop-color="#deecf7"/>
<stop offset="0.16" stop-color="#d8e8f5"/>
<stop offset="0.19" stop-color="#d2e4f3"/>
<stop offset="0.22" stop-color="#cde1f1"/>
<stop offset="0.25" stop-color="#c8ddef"/>
<stop offset="0.28" stop-color="#bfd9eb"/>
<stop offset="0.31" stop-color="#b6d5e8"/>
<stop offset="0.34" stop-color="#add1e4"/>
<stop offset="0.38" stop-color="#a4cce1"/>
<stop offset="0.41" stop-color="#98c6de"/>
<stop offset="0.44" stop-color="#8dbfdb"/>
<stop offset="0.47" stop-color="#82b9d9"/>
<stop offset="0.5" stop-color="#76b3d6"/>
<stop offset="0.53" stop-color="#6dacd2"/>
<stop offset="0.56" stop-color="#64a6ce"/>
<stop offset="0.59" stop-color="#5b9fca"/>
<stop offset="0.62" stop-color="#5398c6"/>
<stop offset="0.66" stop-color="#4e8fc1"/>
<stop offset="0.69" stop-color="#4986bd"/>
<stop offset="0.72" stop-color="#437db9"/>
<stop offset="0.75" stop-color="#3c74b4"/>
<stop offset="0.78" stop-color="#376cae"/>
<stop offset="0.81" stop-color="#3163a8"/>
<stop offset="0.84" stop-color="#2b5ca2"/>
<stop offset="0.88" stop-color="#24549b"/>
<stop offset="0.91" stop-color="#224c8f"/>
<stop offset="0.94" stop-color="#214483"/>
<stop offset="0.97" stop-color="#1f3c77"/>
<stop offset="1" stop-color="#1e356c"/>
</linearGradient>
<linearGradient id="cb2" x1="0" y1="1" x2="0" y2="0">
<stop offset="0" stop-color="#f7fbff"/>
<stop offset="0.03" stop-color="#f1f7fd"/>
<stop offset="0.06" stop-color="#eaf3fb"/>
<stop offset="0.09" stop-color="#e4f0f9"/>
<stop offset="0.12" stop-color="#deecf7"/>
<stop offset="0.16" stop-color="#d8e8f5"/>
<stop offset="0.19" stop-color="#d2e4f3"/>
<stop offset="0.22" stop-color="#cde1f1"/>
<stop offset="0.25" stop-color="#c8ddef"/>
<stop offset="0.28" stop-color="#bfd9eb"/>
<stop offset="0.31" stop-color="#b6d5e8"/>
<stop offset="0.34" stop-color="#add1e4"/>
<stop offset="0.38" stop-color="#a4cce1"/>
<stop offset="0.41" stop-color="#98c6de"/>
<stop offset="0.44" stop-color="#8dbfdb"/>
<stop offset="0.47" stop-color="#82b9d9"/>
<stop offset="0.5" stop-color="#76b3d6"/>
<stop offset="0.53" stop-color="#6dacd2"/>
<stop offset="0.56" stop-color="#64a6ce"/>
<stop offset="0.59" stop-color="#5b9fca"/>
<stop offset="0.62" stop-color="#5398c6"/>
<stop offset="0.66" stop-color="#4e8fc1"/>
<stop offset="0.69" stop-color="#4986bd"/>
<stop offset="0.72" stop-color="#437db9"/>
<stop offset="0.75" stop-color="#3c74b4"/>
<stop offset="0.78" stop-color="#376cae"/>
<stop offset="0.81" stop-color="#3163a8"/>
<stop offset="0.84" stop-color="#2b5ca2"/>
<stop offset="0.88" stop-color="#24549b"/>
<stop offset="0.91" stop-color="#224c8f"/>
<stop offset="0.94" stop-color="#214483"/>
<stop offset="0.97" stop-color="#1f3c77"/>
<stop offset="1" stop-color="#1e356c"/>
</linearGradient>
<linearGradient id="cb3" x1="0" y1="1" x2="0" y2="0">
<stop offset="0" stop-color="#f7fbff"/>
<stop offset="0.03" stop-color="#f1f7fd"/>
<stop offset="0.06" stop-color="#eaf3fb"/>
<stop offset="0.09" stop-color="#e4f0f9"/>
<stop offset="0.12" stop-color="#deecf7"/>
<stop offset="0.16" stop-color="#d8e8f5"/>
<stop offset="0.19" stop-color="#d2e4f3"/>
<stop offset="0.22" stop-color="#cde1f1"/>
<stop offset="0.25" stop-color="#c8ddef"/>
<stop offset="0.28" stop-color="#bfd9eb"/>
<stop offset="0.31" stop-color="#b6d5e8"/>
<stop offset="0.34" stop-color="#add1e4"/>
<stop offset="0.38" stop-color="#a4cce1"/>
<stop offset="0.41" stop-color="#98c6de"/>
<stop offset="0.44" stop-color="#8dbfdb"/>
<stop offset="0.47" stop-color="#82b9d9"/>
<stop offset="0.5" stop-color="#76b3d6"/>
<stop offset="0.53" stop-color="#6dacd2"/>
<stop offset="0.56" stop-color="#64a6ce"/>
<stop offset="0.59" stop-color="#5b9fca"/>
<stop offset="0.62" stop-color="#5398c6"/>
<stop offset="0.66" stop-color="#4e8fc1"/>
<stop offset="0.69" stop-color="#4986bd"/>
<stop offset="0.72" stop-color="#437db9"/>
<stop offset="0.75" stop-color="#3c74b4"/>
<stop offset="0.78" stop-color="#376cae"/>
<stop offset="0.81" stop-color="#3163a8"/>
<stop offset="0.84" stop-color="#2b5ca2"/>
<stop offset="0.88" stop-color="#24549b"/>
<stop offset="0.91" stop-color="#224c8f"/>
<stop offset="0.94" stop-color="#214483"/>
<stop offset="0.97" stop-color="#1f3c77"/>
<stop offset="1" stop-color="#1e356c"/>
</linearGradient>
<linearGradient id="cb4" x1="0" y1="1" x2="0" y2="0">
<stop offset="0" stop-color="#f7fbff"/>
<stop offset="0.03" stop-color="#f1f7fd"/>
<stop offset="0.06" stop-color="#eaf3fb"/>
<stop offset="0.09" stop-color="#e4f0f9"/>
<stop offset="0.12" stop-color="#deecf7"/>
<stop offset="0.16" stop-color="#d8e8f5"/>
<stop offset="0.19" stop-color="#d2e4f3"/>
<stop offset="0.22" stop-color="#cde1f1"/>
<stop offset="0.25" stop-color="#c8ddef"/>
<stop offset="0.28" stop-color="#bfd9eb"/>
<stop offset="0.31" stop-color="#b6d5e8"/>
<stop offset="0.34" stop-color="#add1e4"/>
<stop offset="0.38" stop-color="#a4cce1"/>
<stop offset="0.41" stop-color="#98c6de"/>
<stop offset="0.44" stop-color="#8dbfdb"/>
<stop offset="0.47" stop-color="#82b9d9"/>
<stop offset="0.5" stop-color="#76b3d6"/>
<stop offset="0.53" stop-color="#6dacd2"/>
<stop offset="0.56" stop-color="#64a6ce"/>
<stop offset="0.59" stop-color="#5b9fca"/>
<stop offset="0.62" stop-color="#5398c6"/>
<stop offset="0.66" stop-color="#4e8fc1"/>
<stop offset="0.69" stop-color="#4986bd"/>
<stop offset="0.72" stop-color="#437db9"/>
<stop offset="0.75" stop-color="#3c74b4"/>
<stop offset="0.78" stop-color="#376cae"/>
<stop offset="0.81" stop-color="#3163a8"/>
<stop offset="0.84" stop-color="#2b5ca2"/>
<stop offset="0.88" stop-color="#24549b"/>
<stop offset="0.91" stop-color="#224c8f"/>
<stop offset="0.94" stop-color="#214483"/>
<stop offset="0.97" stop-color="#1f3c77"/>
<stop offset="1" stop-color="#1e356c"/>
</linearGradient>
</defs>
<g id="panelD">
<rect x="56.1" y="743.8" width="114" height="163.3" fill="#1e356c"/>
<text x="113.1" y="830.65" font-size="19.44" text-anchor="middle" fill="#fff">4832</text>
<rect x="170.1" y="743.8" width="114" height="163.3" fill="#e7f2fa"/>
<text x="227.1" y="830.65" font-size="19.44" text-anchor="middle" fill="#262626">405</text>
<rect x="56.1" y="907.1" width="114" height="163.3" fill="#f7fbff"/>
<text x="113.1" y="993.95" font-size="19.44" text-anchor="middle" fill="#262626">27</text>
<rect x="170.1" y="907.1" width="114" height="163.3" fill="#f7fbff"/>
<text x="227.1" y="993.95" font-size="19.44" text-anchor="middle" fill="#262626">22</text>
<line x1="113.1" y1="1070.4" x2="113.1" y2="1075.9" stroke="#000" stroke-width="1.11"/>
<text x="113.1" y="1094.9" font-size="19.44" text-anchor="middle">0</text>
<line x1="227.1" y1="1070.4" x2="227.1" y2="1075.9" stroke="#000" stroke-width="1.11"/>
<text x="227.1" y="1094.9" font-size="19.44" text-anchor="middle">1</text>
<line x1="50.6" y1="825.45" x2="56.1" y2="825.45" stroke="#000" stroke-width="1.11"/>
<text x="42.8" y="825.45" font-size="19.44" text-anchor="middle" transform="rotate(-90 42.8 825.45)">0</text>
<line x1="50.6" y1="988.75" x2="56.1" y2="988.75" stroke="#000" stroke-width="1.11"/>
<text x="42.8" y="988.75" font-size="19.44" text-anchor="middle" transform="rotate(-90 42.8 988.75)">1</text>
<text x="170.1" y="1119" font-size="19.44" text-anchor="middle">Predicted</text>
<text x="16.8" y="907.1" font-size="19.44" text-anchor="middle" transform="rotate(-90 16.8 907.1)">True</text>
<text x="170.1" y="697" font-size="36" text-anchor="middle" font-weight="bold">D</text>
<text x="170.1" y="729.85" font-size="23.33" text-anchor="middle">Fold 0 - PPA: 0.45</text>
<rect x="298.3" y="743.8" width="16.4" height="326.6" fill="url(#cb0)"/>
<line x1="314.7" y1="1003.99" x2="320.2" y2="1003.99" stroke="#000" stroke-width="1.11"/>
<text x="324.5" y="1011.19" font-size="19.44" text-anchor="start">1000</text>
<line x1="314.7" y1="936.09" x2="320.2" y2="936.09" stroke="#000" stroke-width="1.11"/>
<text x="324.5" y="943.29" font-size="19.44" text-anchor="start">2000</text>
<line x1="314.7" y1="868.19" x2="320.2" y2="868.19" stroke="#000" stroke-width="1.11"/>
<text x="324.5" y="875.39" font-size="19.44" text-anchor="start">3000</text>
<line x1="314.7" y1="800.29" x2="320.2" y2="800.29" stroke="#000" stroke-width="1.11"/>
<text x="324.5" y="807.49" font-size="19.44" text-anchor="start">4000</text>
</g>
<g id="panelE">
<rect x="454.4" y="743.8" width="114" height="163.3" fill="#1e356c"/>
<text x="511.4" y="830.65" font-size="19.44" text-anchor="middle" fill="#fff">5028</text>
<rect x="568.4" y="743.8" width="114" height="163.3" fill="#e7f2fa"/>
<text x="625.4" y="830.65" font-size="19.44" text-anchor="middle" fill="#262626">423</text>
<rect x="454.4" y="907.1" width="114" height="163.3" fill="#f7fbff"/>
<text x="511.4" y="993.95" font-size="19.44" text-anchor="middle" fill="#262626">27</text>
<rect x="568.4" y="907.1" width="114" height="163.3" fill="#f7fbff"/>
<text x="625.4" y="993.95" font-size="19.44" text-anchor="middle" fill="#262626">24</text>
<line x1="511.4" y1="1070.4" x2="511.4" y2="1075.9" stroke="#000" stroke-width="1.11"/>
<text x="511.4" y="1094.9" font-size="19.44" text-anchor="middle">0</text>
<line x1="625.4" y1="1070.4" x2="625.4" y2="1075.9" stroke="#000" stroke-width="1.11"/>
<text x="625.4" y="1094.9" font-size="19.44" text-anchor="middle">1</text>
<line x1="448.9" y1="825.45" x2="454.4" y2="825.45" stroke="#000" stroke-width="1.11"/>
<text x="441.1" y="825.45" font-size="19.44" text-anchor="middle" transform="rotate(-90 441.1 825.45)">0</text>
<line x1="448.9" y1="988.75" x2="454.4" y2="988.75" stroke="#000" stroke-width="1.11"/>
<text x="441.1" y="988.75" font-size="19.44" text-anchor="middle" transform="rotate(-90 441.1 988.75)">1</text>
<text x="568.4" y="1119" font-size="19.44" text-anchor="middle">Predicted</text>
<text x="415.1" y="907.1" font-size="19.44" text-anchor="middle" transform="rotate(-90 415.1 907.1)">True</text>
<text x="568.4" y="697" font-size="36" text-anchor="middle" font-weight="bold">E</text>
<text x="568.4" y="729.85" font-size="23.33" text-anchor="middle">Fold 1 - PPA: 0.47</text>
<rect x="696.6" y="743.8" width="16.4" height="326.6" fill="url(#cb1)"/>
<line x1="713" y1="1006.7" x2="718.5" y2="1006.7" stroke="#000" stroke-width="1.11"/>
<text x="722.8" y="1013.9" font-size="19.44" text-anchor="start">1000</text>
<line x1="713" y1="941.43" x2="718.5" y2="941.43" stroke="#000" stroke-width="1.11"/>
<text x="722.8" y="948.63" font-size="19.44" text-anchor="start">2000</text>
<line x1="713" y1="876.16" x2="718.5" y2="876.16" stroke="#000" stroke-width="1.11"/>
<text x="722.8" y="883.36" font-size="19.44" text-anchor="start">3000</text>
<line x1="713" y1="810.9" x2="718.5" y2="810.9" stroke="#000" stroke-width="1.11"/>
<text x="722.8" y="818.1" font-size="19.44" text-anchor="start">4000</text>
<line x1="713" y1="745.63" x2="718.5" y2="745.63" stroke="#000" stroke-width="1.11"/>
<text x="722.8" y="752.83" font-size="19.44" text-anchor="start">5000</text>
</g>
<g id="panelF">
<rect x="852.7" y="743.8" width="114" height="163.3" fill="#1e356c"/>
<text x="909.7" y="830.65" font-size="19.44" text-anchor="middle" fill="#fff">4964</text>
<rect x="966.7" y="743.8" width="114" height="163.3" fill="#e5f0f9"/>
<text x="1023.7" y="830.65" font-size="19.44" text-anchor="middle" fill="#262626">487</text>
<rect x="852.7" y="907.1" width="114" height="163.3" fill="#f7fbff"/>
<text x="909.7" y="993.95" font-size="19.44" text-anchor="middle" fill="#262626">24</text>
<rect x="966.7" y="907.1" width="114" height="163.3" fill="#f7fbff"/>
<text x="1023.7" y="993.95" font-size="19.44" text-anchor="middle" fill="#262626">27</text>
<line x1="909.7" y1="1070.4" x2="909.7" y2="1075.9" stroke="#000" stroke-width="1.11"/>
<text x="909.7" y="1094.9" font-size="19.44" text-anchor="middle">0</text>
<line x1="1023.7" y1="1070.4" x2="1023.7" y2="1075.9" stroke="#000" stroke-width="1.11"/>
<text x="1023.7" y="1094.9" font-size="19.44" text-anchor="middle">1</text>
<line x1="847.2" y1="825.45" x2="852.7" y2="825.45" stroke="#000" stroke-width="1.11"/>
<text x="839.4" y="825.45" font-size="19.44" text-anchor="middle" transform="rotate(-90 839.4 825.45)">0</text>
<line x1="847.2" y1="988.75" x2="852.7" y2="988.75" stroke="#000" stroke-width="1.11"/>
<text x="839.4" y="988.75" font-size="19.44" text-anchor="middle" transform="rotate(-90 839.4 988.75)">1</text>
<text x="966.7" y="1119" font-size="19.44" text-anchor="middle">Predicted</text>
<text x="813.4" y="907.1" font-size="19.44" text-anchor="middle" transform="rotate(-90 813.4 907.1)">True</text>
<text x="966.7" y="697" font-size="36" text-anchor="middle" font-weight="bold">F</text>
<text x="966.7" y="729.85" font-size="23.33" text-anchor="middle">Fold 2 - PPA: 0.53</text>
<rect x="1094.9" y="743.8" width="16.4" height="326.6" fill="url(#cb2)"/>
<line x1="1111.3" y1="1005.87" x2="1116.8" y2="1005.87" stroke="#000" stroke-width="1.11"/>
<text x="1121.1" y="1013.07" font-size="19.44" text-anchor="start">1000</text>
<line x1="1111.3" y1="939.76" x2="1116.8" y2="939.76" stroke="#000" stroke-width="1.11"/>
<text x="1121.1" y="946.96" font-size="19.44" text-anchor="start">2000</text>
<line x1="1111.3" y1="873.65" x2="1116.8" y2="873.65" stroke="#000" stroke-width="1.11"/>
<text x="1121.1" y="880.85" font-size="19.44" text-anchor="start">3000</text>
<line x1="1111.3" y1="807.53" x2="1116.8" y2="807.53" stroke="#000" stroke-width="1.11"/>
<text x="1121.1" y="814.73" font-size="19.44" text-anchor="start">4000</text>
</g>
<g id="panelG">
<rect x="1251" y="743.8" width="114" height="163.3" fill="#1e356c"/>
<text x="1308" y="830.65" font-size="19.44" text-anchor="middle" fill="#fff">5129</text>
<rect x="1365" y="743.8" width="114" height="163.3" fill="#e7f2fa"/>
<text x="1422" y="830.65" font-size="19.44" text-anchor="middle" fill="#262626">427</text>
<rect x="1251" y="907.1" width="114" height="163.3" fill="#f7fbff"/>
<text x="1308" y="993.95" font-size="19.44" text-anchor="middle" fill="#262626">27</text>
<rect x="1365" y="907.1" width="114" height="163.3" fill="#f7fbff"/>
<text x="1422" y="993.95" font-size="19.44" text-anchor="middle" fill="#262626">32</text>
<line x1="1308" y1="1070.4" x2="1308" y2="1075.9" stroke="#000" stroke-width="1.11"/>
<text x="1308" y="1094.9" font-size="19.44" text-anchor="middle">0</text>
<line x1="1422" y1="1070.4" x2="1422" y2="1075.9" stroke="#000" stroke-width="1.11"/>
<text x="1422" y="1094.9" font-size="19.44" text-anchor="middle">1</text>
<line x1="1245.5" y1="825.45" x2="1251" y2="825.45" stroke="#000" stroke-width="1.11"/>
<text x="1237.7" y="825.45" font-size="19.44" text-anchor="middle" transform="rotate(-90 1237.7 825.45)">0</text>
<line x1="1245.5" y1="988.75" x2="1251" y2="988.75" stroke="#000" stroke-width="1.11"/>
<text x="1237.7" y="988.75" font-size="19.44" text-anchor="middle" transform="rotate(-90 1237.7 988.75)">1</text>
<text x="1365" y="1119" font-size="19.44" text-anchor="middle">Predicted</text>
<text x="1211.7" y="907.1" font-size="19.44" text-anchor="middle" transform="rotate(-90 1211.7 907.1)">True</text>
<text x="1365" y="697" font-size="36" text-anchor="middle" font-weight="bold">G</text>
<text x="1365" y="729.85" font-size="23.33" text-anchor="middle">Fold 3 - PPA: 0.54</text>
<rect x="1493.2" y="743.8" width="16.4" height="326.6" fill="url(#cb3)"/>
<line x1="1509.6" y1="1008.11" x2="1515.1" y2="1008.11" stroke="#000" stroke-width="1.11"/>
<text x="1519.4" y="1015.31" font-size="19.44" text-anchor="start">1000</text>
<line x1="1509.6" y1="944.1" x2="1515.1" y2="944.1" stroke="#000" stroke-width="1.11"/>
<text x="1519.4" y="951.3" font-size="19.44" text-anchor="start">2000</text>
<line x1="1509.6" y1="880.09" x2="1515.1" y2="880.09" stroke="#000" stroke-width="1.11"/>
<text x="1519.4" y="887.29" font-size="19.44" text-anchor="start">3000</text>
<line x1="1509.6" y1="816.07" x2="1515.1" y2="816.07" stroke="#000" stroke-width="1.11"/>
<text x="1519.4" y="823.27" font-size="19.44" text-anchor="start">4000</text>
<line x1="1509.6" y1="752.06" x2="1515.1" y2="752.06" stroke="#000" stroke-width="1.11"/>
<text x="1519.4" y="759.26" font-size="19.44" text-anchor="start">5000</text>
</g>
<g id="panelH">
<rect x="1649.3" y="743.8" width="114" height="163.3" fill="#1e356c"/>
<text x="1706.3" y="830.65" font-size="19.44" text-anchor="middle" fill="#fff">4976</text>
<rect x="1763.3" y="743.8" width="114" height="163.3" fill="#eaf3fb"/>
<text x="1820.3" y="830.65" font-size="19.44" text-anchor="middle" fill="#262626">368</text>
<rect x="1649.3" y="907.1" width="114" height="163.3" fill="#f7fbff"/>
<text x="1706.3" y="993.95" font-size="19.44" text-anchor="middle" fill="#262626">25</text>
<rect x="1763.3" y="907.1" width="114" height="163.3" fill="#f7fbff"/>
<text x="1820.3" y="993.95" font-size="19.44" text-anchor="middle" fill="#262626">25</text>
<line x1="1706.3" y1="1070.4" x2="1706.3" y2="1075.9" stroke="#000" stroke-width="1.11"/>
<text x="1706.3" y="1094.9" font-size="19.44" text-anchor="middle">0</text>
<line x1="1820.3" y1="1070.4" x2="1820.3" y2="1075.9" stroke="#000" stroke-width="1.11"/>
<text x="1820.3" y="1094.9" font-size="19.44" text-anchor="middle">1</text>
<line x1="1643.8" y1="825.45" x2="1649.3" y2="825.45" stroke="#000" stroke-width="1.11"/>
<text x="1636" y="825.45" font-size="19.44" text-anchor="middle" transform="rotate(-90 1636 825.45)">0</text>
<line x1="1643.8" y1="988.75" x2="1649.3" y2="988.75" stroke="#000" stroke-width="1.11"/>
<text x="1636" y="988.75" font-size="19.44" text-anchor="middle" transform="rotate(-90 1636 988.75)">1</text>
<text x="1763.3" y="1119" font-size="19.44" text-anchor="middle">Predicted</text>
<text x="1610" y="907.1" font-size="19.44" text-anchor="middle" transform="rotate(-90 1610 907.1)">True</text>
<text x="1763.3" y="697" font-size="36" text-anchor="middle" font-weight="bold">H</text>
<text x="1763.3" y="729.85" font-size="23.33" text-anchor="middle">Fold 4 - PPA: 0.50</text>
<rect x="1891.5" y="743.8" width="16.4" height="326.6" fill="url(#cb4)"/>
<line x1="1907.9" y1="1006.08" x2="1913.4" y2="1006.08" stroke="#000" stroke-width="1.11"/>
<text x="1917.7" y="1013.28" font-size="19.44" text-anchor="start">1000</text>
<line x1="1907.9" y1="940.12" x2="1913.4" y2="940.12" stroke="#000" stroke-width="1.11"/>
<text x="1917.7" y="947.32" font-size="19.44" text-anchor="start">2000</text>
<line x1="1907.9" y1="874.15" x2="1913.4" y2="874.15" stroke="#000" stroke-width="1.11"/>
<text x="1917.7" y="881.35" font-size="19.44" text-anchor="start">3000</text>
<line x1="1907.9" y1="808.18" x2="1913.4" y2="808.18" stroke="#000" stroke-width="1.11"/>
<text x="1917.7" y="815.38" font-size="19.44" text-anchor="start">4000</text>
</g>
</svg></body></html>
